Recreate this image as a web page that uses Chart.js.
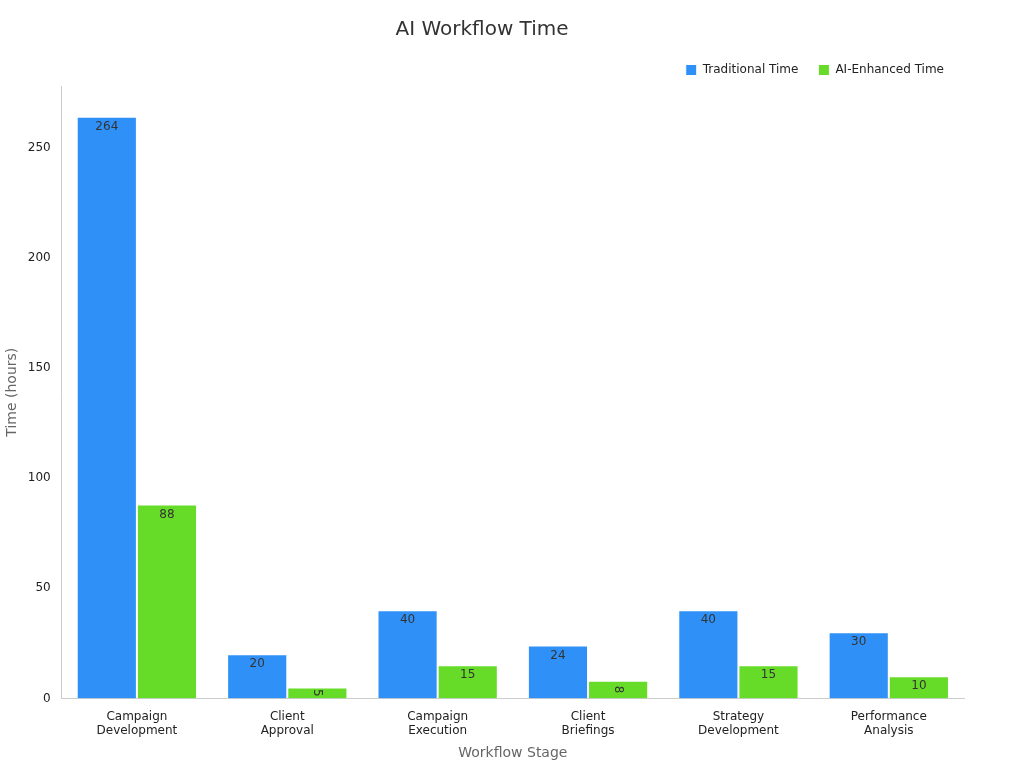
<!DOCTYPE html>
<html>
<head>
<meta charset="utf-8">
<script src="https://cdn.jsdelivr.net/npm/chart.js@4"></script>
<style>
  body { margin: 0; background: #fff; }
  #wrap { width: 1024px; height: 768px; }
</style>
</head>
<body>
<div id="wrap"><canvas id="chart"></canvas></div>
<script>
const stages = [["Campaign", "Development"], ["Client", "Approval"], ["Campaign", "Execution"],
  ["Client", "Briefings"], ["Strategy", "Development"], ["Performance", "Analysis"]];
const traditionalTime = [264, 20, 40, 24, 40, 30];
const aiEnhancedTime = [88, 5, 15, 8, 15, 10];

Chart.defaults.font.family = "'DejaVu Sans', sans-serif";
Chart.defaults.color = '#333';

// value labels just inside the top of each bar, rotated when the bar is short
const barLabels = {
  id: 'barLabels',
  afterDatasetsDraw(chart) {
    const ctx = chart.ctx;
    ctx.save();
    ctx.font = "12px 'DejaVu Sans'";
    ctx.fillStyle = '#333';
    ctx.textAlign = 'center';
    ctx.textBaseline = 'middle';
    chart.data.datasets.forEach((ds, i) => {
      chart.getDatasetMeta(i).data.forEach((bar, j) => {
        const v = ds.data[j];
        const h = bar.base - bar.y;
        if (h < 20) {
          ctx.save();
          ctx.translate(bar.x, bar.y + h / 2);
          ctx.rotate(Math.PI / 2);
          ctx.fillText(v, 0, 0);
          ctx.restore();
        } else {
          ctx.fillText(v, bar.x, bar.y + 10);
        }
      });
    });
    ctx.restore();
  }
};

new Chart(document.getElementById('chart'), {
  type: 'bar',
  data: {
    labels: stages,
    datasets: [
      {
        label: 'Traditional Time',
        data: traditionalTime,
        backgroundColor: '#2f91f8',
        borderColor: '#ffffff',
        borderWidth: 1,
        categoryPercentage: 0.8,
        barPercentage: 1.0
      },
      {
        label: 'AI-Enhanced Time',
        data: aiEnhancedTime,
        backgroundColor: '#66dc28',
        borderColor: '#ffffff',
        borderWidth: 1,
        categoryPercentage: 0.8,
        barPercentage: 1.0
      }
    ]
  },
  options: {
    responsive: true,
    maintainAspectRatio: false,
    animation: false,
    layout: { padding: { left: 0, right: 60, top: 10, bottom: 2 } },
    scales: {
      x: {
        grid: { display: false, drawTicks: true },
        border: { color: '#ccc' },
        ticks: { font: { size: 12 }, color: '#222', maxRotation: 0 },
        title: { display: true, text: 'Workflow Stage', color: '#666', font: { size: 14 } }
      },
      y: {
        min: 0,
        max: 278,
        grid: { display: false, drawTicks: true },
        border: { color: '#ccc' },
        ticks: { stepSize: 50, font: { size: 12 }, color: '#222',
          callback: v => (v % 50 === 0 ? v : '') },
        title: { display: true, text: 'Time (hours)', color: '#666', font: { size: 14 } }
      }
    },
    plugins: {
      title: {
        display: true,
        text: 'AI Workflow Time',
        font: { size: 20, weight: 'normal' },
        color: '#333',
        padding: { top: 8, bottom: 2 }
      },
      legend: {
        display: true,
        position: 'top',
        align: 'end',
        labels: { boxWidth: 11, boxHeight: 11, font: { size: 12 }, color: '#222', padding: 20 }
      },
      tooltip: { enabled: false }
    }
  },
  plugins: [barLabels]
});
</script>
</body>
</html>
